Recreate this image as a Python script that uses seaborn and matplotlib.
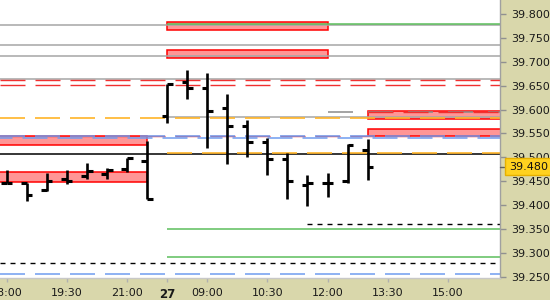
import numpy as np
import pandas as pd
import matplotlib
matplotlib.use("Agg")
import matplotlib.pyplot as plt
from matplotlib.patches import Rectangle
import matplotlib.transforms as mtransforms
import seaborn as sns

# ---------------- data ----------------
bar_pos = list(range(19))
opens  = [39.447, 39.446, 39.431, 39.455, 39.461, 39.466, 39.475, 39.492,
          39.586, 39.658, 39.646, 39.604, 39.565, 39.531, 39.496, 39.441,
          39.447, 39.450, 39.515]
highs  = [39.473, 39.447, 39.468, 39.473, 39.487, 39.477, 39.498, 39.535,
          39.653, 39.683, 39.676, 39.632, 39.578, 39.541, 39.508, 39.463,
          39.468, 39.528, 39.538]
lows   = [39.447, 39.408, 39.430, 39.445, 39.454, 39.455, 39.470, 39.413,
          39.572, 39.623, 39.519, 39.486, 39.501, 39.463, 39.413, 39.397,
          39.417, 39.447, 39.452]
closes = [39.447, 39.421, 39.451, 39.450, 39.472, 39.473, 39.498, 39.413,
          39.653, 39.646, 39.597, 39.565, 39.531, 39.496, 39.450, 39.447,
          39.447, 39.526, 39.480]

tick_pos    = [0, 3, 6, 8, 10, 13, 16, 19, 22]
tick_labels = ["18:00", "19:30", "21:00", "27", "09:00", "10:30", "12:00", "13:30", "15:00"]
y_ticks     = [39.25, 39.30, 39.35, 39.40, 39.45, 39.50, 39.55, 39.60, 39.65, 39.70, 39.75, 39.80]
last_price  = 39.480

# horizontal levels: value, start position (None = from left edge), kind
level_values = [39.777, 39.779, 39.735, 39.713, 39.663, 39.661, 39.651, 39.594, 39.594,
                39.584, 39.582, 39.545, 39.545, 39.541, 39.507, 39.509, 39.360,
                39.349, 39.291, 39.278, 39.255]
level_starts = [None, 8, None, None, None, None, None, 16, 18,
                8, None, None, None, None, None, 8, 15,
                8, 8, None, None]
level_kinds  = ["grey", "green", "grey", "grey", "grey", "red", "red", "greydash", "red",
                "grey", "orange", "red", "blue", "blue2", "black", "orange", "blackdash",
                "green", "green", "blackdash", "blue"]

# zones: start, end (None = edge), low, high
zone_starts = [8, 8, 18, 18, None, None]
zone_ends   = [16, 16, None, None, 7, 7]
zone_lows   = [39.767, 39.707, 39.580, 39.545, 39.525, 39.448]
zone_highs  = [39.784, 39.724, 39.597, 39.559, 39.545, 39.470]

# ---------------- style ----------------
sns.set_theme(style="white")
plt.rcParams["font.family"] = ["DejaVu Sans"]
plt.rcParams["lines.scale_dashes"] = False

PANEL = "#d9d7ab"
XMIN, XMAX = -0.335, 24.6
YMIN, YMAX = 39.2472, 39.8293

styles = {
    "grey":      dict(color="#a6a6a6", lw=1.1, ls="-"),
    "green":     dict(color="#5cbf5c", lw=1.1, ls="-"),
    "red":       dict(color="#f03030", lw=1.0, ls=(0, (18, 7.2))),
    "greydash":  dict(color="#8a8a8a", lw=1.1, ls=(0, (18, 10.8))),
    "orange":    dict(color="#ffb428", lw=1.2, ls=(0, (18, 7.2))),
    "blue":      dict(color="#6f9cf0", lw=1.1, ls=(0, (18, 7.2))),
    "blue2":     dict(color="#6f9cf0", lw=1.1, ls=(9, (18, 7.2))),
    "black":     dict(color="#000000", lw=1.1, ls="-"),
    "blackdash": dict(color="#000000", lw=1.0, ls=(0, (3.6, 3.6))),
}

fig = plt.figure(figsize=(5.5, 3.0), dpi=100, facecolor=PANEL)
ax = fig.add_axes([0, 22 / 300, 500 / 550, 278 / 300])
ax.set_facecolor("white")
ax.set_xlim(XMIN, XMAX)
ax.set_ylim(YMIN, YMAX)

# zones
for s, e, lo, hi in zip(zone_starts, zone_ends, zone_lows, zone_highs):
    x0 = XMIN - 1 if s is None else s
    x1 = XMAX + 1 if e is None else e
    ax.add_patch(Rectangle((x0, lo), x1 - x0, hi - lo, facecolor="#ff9696",
                           edgecolor="#ff0000", lw=1.1, zorder=1))

# levels
for v, s, k in zip(level_values, level_starts, level_kinds):
    x0 = XMIN if s is None else s
    st = styles[k]
    ax.plot([x0, XMAX], [v, v], color=st["color"], lw=st["lw"], ls=st["ls"],
            zorder=2, solid_capstyle="butt", dash_capstyle="butt")

# OHLC bars
df = pd.DataFrame({"x": bar_pos, "open": opens, "high": highs, "low": lows, "close": closes})
tw = 0.28
ax.vlines(df["x"], df["low"], df["high"], color="black", lw=1.9, zorder=4)
ax.hlines(df["open"], df["x"] - tw, df["x"], color="black", lw=2.2, zorder=4)
ax.hlines(df["close"], df["x"], df["x"] + tw, color="black", lw=2.2, zorder=4)

# axes
for side in ["left", "top"]:
    ax.spines[side].set_visible(False)
ax.spines["right"].set_color("#a0a0a0")
ax.spines["bottom"].set_color("#c8c8c8")
ax.spines["right"].set_linewidth(1.0)
ax.spines["bottom"].set_linewidth(1.0)

ax.yaxis.tick_right()
ax.set_yticks(y_ticks)
ax.set_yticklabels([f"{v:.3f}" for v in y_ticks])
ax.tick_params(axis="y", which="both", right=True, left=False, length=4, width=1,
               color="#909090", labelsize=8, labelcolor="#1a1a1a", pad=4)

ax.set_xticks(tick_pos)
ax.set_xticklabels(tick_labels)
ax.tick_params(axis="x", which="both", bottom=True, length=3, width=1,
               color="#b0b0b0", labelsize=8, labelcolor="#1a1a1a", pad=4)
for lbl in ax.get_xticklabels():
    if lbl.get_text() == "27":
        lbl.set_fontweight("bold")
        lbl.set_fontsize(8.5)

# last price label
trans = mtransforms.blended_transform_factory(ax.transAxes, ax.transData)
ax.plot([1.0, 1.008], [last_price, last_price], transform=trans, color="#606060",
        lw=1, clip_on=False, zorder=9)
ax.text(1.018, last_price, f"{last_price:.3f}", transform=trans, ha="left", va="center",
        fontsize=8, color="#111111", zorder=10, clip_on=False,
        bbox=dict(boxstyle="square,pad=0.33", facecolor="#ffd21f", edgecolor="#e6b000", lw=1))

fig.savefig("out.png", dpi=100, facecolor=PANEL)
